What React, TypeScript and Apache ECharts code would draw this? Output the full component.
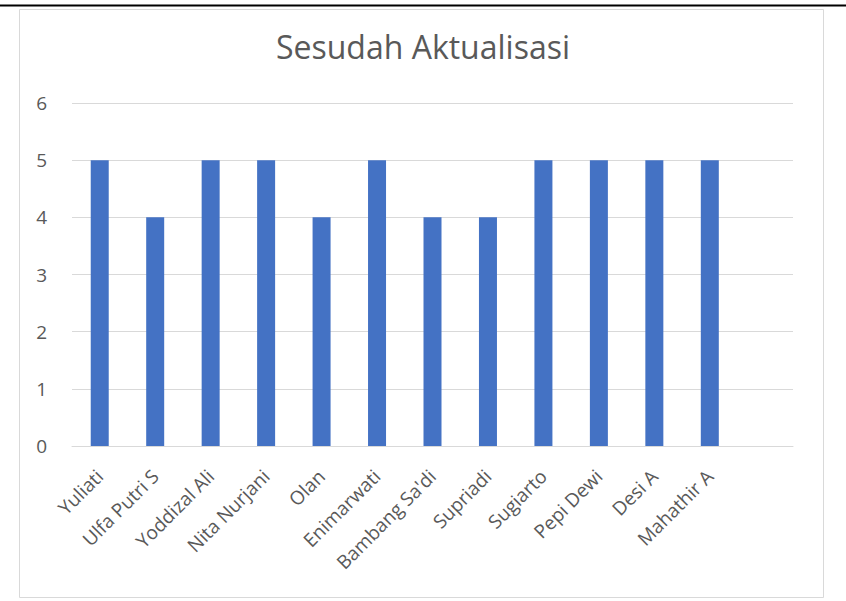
import React, { useEffect, useRef } from "react";
import * as echarts from "echarts";

const categories = [
  "Yuliati",
  "Ulfa Putri S",
  "Yoddizal Ali",
  "Nita Nurjani",
  "Olan",
  "Enimarwati",
  "Bambang Sa'di",
  "Supriadi",
  "Sugiarto",
  "Pepi Dewi",
  "Desi A",
  "Mahathir A",
  "",
];
const values: (number | null)[] = [5, 4, 5, 5, 4, 5, 4, 4, 5, 5, 5, 5, null];
const yTicks = [0, 1, 2, 3, 4, 5, 6];

export default function App() {
  const ref = useRef<HTMLDivElement>(null);
  useEffect(() => {
    if (!ref.current) return;
    const chart = echarts.init(ref.current, undefined, { renderer: "svg" });
    const font = "Open Sans";
    chart.setOption({
      animation: false,
      backgroundColor: "#ffffff",
      title: {
        text: "Sesudah Aktualisasi",
        left: "center",
        top: 25,
        textStyle: { fontFamily: font, fontSize: 32, fontWeight: "normal", color: "#595959" },
      },
      graphic: [
        {
          type: "rect",
          shape: { x: 19.5, y: 9.5, width: 804, height: 588 },
          style: { fill: "none", stroke: "#d9d9d9", lineWidth: 1 },
          z: -1,
        },
        {
          type: "line",
          shape: { x1: 0, y1: 5.5, x2: 846, y2: 5.5 },
          style: { stroke: "#000000", lineWidth: 2 },
        },
      ],
      grid: { left: 72, right: 53, top: 103, bottom: 155, containLabel: false },
      xAxis: {
        type: "category",
        data: categories,
        axisLine: { show: true, lineStyle: { color: "#d9d9d9", width: 1 } },
        axisTick: { show: false },
        axisLabel: {
          rotate: 45,
          interval: 0,
          margin: 27,
          fontFamily: font,
          fontSize: 19,
          color: "#595959",
        },
      },
      yAxis: {
        type: "value",
        min: 0,
        max: 6,
        interval: 1,
        axisLine: { show: false },
        axisTick: { show: false },
        splitLine: { lineStyle: { color: "#d9d9d9", width: 1 } },
        axisLabel: {
          margin: 25,
          fontFamily: font,
          fontSize: 19,
          color: "#595959",
          formatter: (v: number) => (yTicks.includes(v) ? String(v) : ""),
        },
      },
      series: [
        {
          type: "bar",
          data: values,
          barWidth: 18,
          itemStyle: { color: "#4472C4" },
        },
      ],
    });
    return () => chart.dispose();
  }, []);
  return (
    <div
      ref={ref}
      style={{ position: "fixed", left: 0, top: 0, width: 846, height: 601 }}
    />
  );
}
